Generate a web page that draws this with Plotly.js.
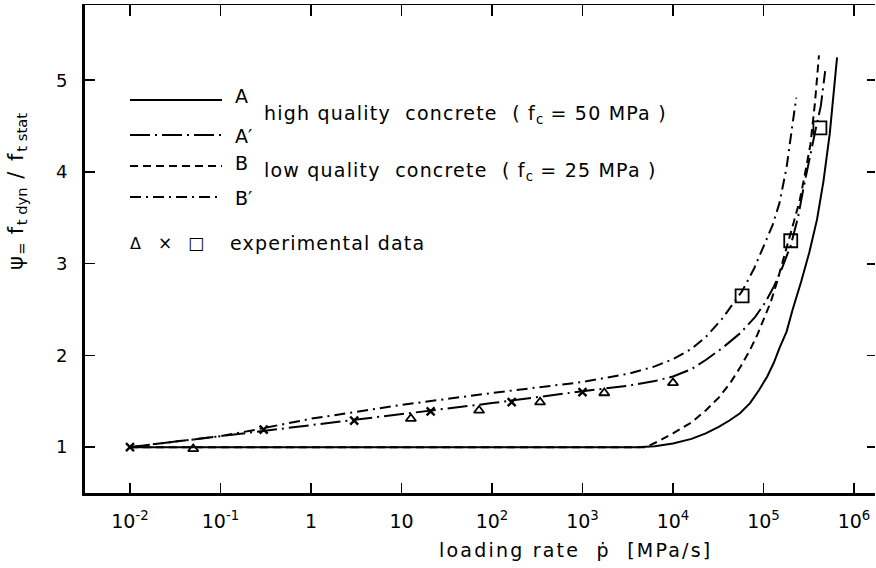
<!DOCTYPE html>
<html>
<head>
<meta charset="utf-8">
<script src="https://cdn.plot.ly/plotly-3.0.1.min.js"></script>
<style>html,body{margin:0;padding:0;background:#fff;}#chart{width:876px;height:568px;}</style>
</head>
<body>
<div id="chart"></div>
<script>
// ---- data (loading rate in MPa/s, psi = f_tdyn / f_tstat) ----
const curveA_x = [0.01, 4e3, 6.3e3, 1e4, 1.6e4, 2.3e4, 3.2e4, 4.2e4, 5.5e4, 7.1e4, 8.9e4, 1.1e5, 1.3e5, 1.5e5, 1.8e5, 2.1e5, 2.6e5, 3.2e5, 3.9e5, 4.6e5, 5.4e5, 6.0e5, 6.5e5];
const curveA_y = [1.0, 1.0, 1.01, 1.04, 1.09, 1.15, 1.22, 1.29, 1.37, 1.48, 1.62, 1.77, 1.92, 2.08, 2.26, 2.50, 2.80, 3.12, 3.48, 3.90, 4.42, 4.85, 5.25];

const curveA2_x = [0.01, 0.032, 0.1, 1, 10, 100, 1000, 3.2e3, 6.3e3, 1e4, 1.6e4, 2.3e4, 3.5e4, 5.5e4, 8.1e4, 1.05e5, 1.3e5, 1.6e5, 2.0e5, 2.4e5, 2.8e5, 3.3e5, 3.8e5, 4.3e5, 4.8e5];
const curveA2_y = [1.0, 1.06, 1.12, 1.24, 1.36, 1.48, 1.61, 1.67, 1.72, 1.77, 1.85, 1.95, 2.08, 2.24, 2.42, 2.58, 2.75, 2.95, 3.2, 3.5, 3.85, 4.2, 4.48, 4.72, 5.1];

const curveB_x = [0.01, 5e3, 7.1e3, 1e4, 1.6e4, 2.3e4, 3.2e4, 4.3e4, 5.6e4, 7.1e4, 8.5e4, 1e5, 1.2e5, 1.4e5, 1.7e5, 2.1e5, 2.5e5, 2.8e5, 3.3e5, 3.7e5, 4.1e5];
const curveB_y = [1.0, 1.0, 1.07, 1.15, 1.27, 1.40, 1.54, 1.70, 1.88, 2.06, 2.22, 2.38, 2.58, 2.79, 3.08, 3.40, 3.68, 3.92, 4.30, 4.75, 5.27];

const curveB2_x = [0.01, 0.1, 0.23, 1, 10, 100, 1000, 3.2e3, 6.3e3, 1e4, 1.6e4, 2.3e4, 3.5e4, 5.8e4, 7.9e4, 1e5, 1.26e5, 1.5e5, 1.8e5, 2.0e5, 2.3e5];
const curveB2_y = [1.0, 1.12, 1.185, 1.31, 1.46, 1.59, 1.71, 1.80, 1.88, 1.96, 2.07, 2.20, 2.40, 2.70, 2.95, 3.18, 3.42, 3.66, 4.05, 4.38, 4.81];

const triangles_x = [0.05, 12.7, 72, 340, 1740, 1e4];
const triangles_y = [0.98, 1.31, 1.40, 1.49, 1.59, 1.70];
const crosses_x = [0.01, 0.3, 3, 21, 165, 1000];
const crosses_y = [1.0, 1.19, 1.29, 1.39, 1.49, 1.60];
const squares_x = [5.8e4, 2.0e5, 4.2e5];
const squares_y = [2.65, 3.25, 4.48];

const xTickVals = [0.01, 0.1, 1, 10, 100, 1e3, 1e4, 1e5, 1e6];
const xTickText = ['10<sup>-2</sup>', '10<sup>-1</sup>', '1', '10', '10<sup>2</sup>', '10<sup>3</sup>', '10<sup>4</sup>', '10<sup>5</sup>', '10<sup>6</sup>'];
const yTickVals = [1, 2, 3, 4, 5];

// ---- layout helpers (pixel -> paper) ----
const L = 85, R = 875, T = 5, B = 493;
const px = x => (x - L) / (R - L);
const py = y => (B - y) / (B - T);

const FONT = 'DejaVu Sans';
const lineW = 2;
const sp = (t, ls) => '<span style="letter-spacing:' + ls + 'px">' + t + '</span>';

const dashA2 = '20px,5px,2px,5px';
const dashB = '8px,5px';
const dashB2 = '11px,5px,2px,5px';

const traces = [
  {x: curveA_x, y: curveA_y, mode: 'lines', line: {color: '#000', width: lineW}, hoverinfo: 'skip'},
  {x: curveA2_x, y: curveA2_y, mode: 'lines', line: {color: '#000', width: lineW, dash: dashA2}, hoverinfo: 'skip'},
  {x: curveB_x, y: curveB_y, mode: 'lines', line: {color: '#000', width: lineW, dash: dashB}, hoverinfo: 'skip'},
  {x: curveB2_x, y: curveB2_y, mode: 'lines', line: {color: '#000', width: lineW, dash: dashB2}, hoverinfo: 'skip'},
  {x: triangles_x, y: triangles_y, mode: 'markers', marker: {symbol: 'triangle-up-open', size: 9, color: '#000', line: {width: 1.8, color: '#000'}}, cliponaxis: false},
  {x: crosses_x, y: crosses_y, mode: 'markers', marker: {symbol: 'x-thin-open', size: 8, color: '#000', line: {width: 2.4, color: '#000'}}, cliponaxis: false},
  {x: squares_x, y: squares_y, mode: 'markers', marker: {symbol: 'square-open', size: 13, color: '#000', line: {width: 1.8, color: '#000'}}},
  {x: [1, 10], y: [1, 2], xaxis: 'x2', yaxis: 'y2', mode: 'none', hoverinfo: 'skip'}
];

const legendRows = [
  {y: 100, dash: 'solid', label: 'A', ly: 96},
  {y: 135, dash: dashA2, label: 'A′', ly: 136},
  {y: 166, dash: dashB, label: 'B', ly: 163},
  {y: 197, dash: dashB2, label: 'B′', ly: 198}
];

const shapes = legendRows.map(r => ({
  type: 'line', xref: 'paper', yref: 'paper',
  x0: px(130), x1: px(222), y0: py(r.y), y1: py(r.y),
  line: {color: '#000', width: lineW, dash: r.dash}
}));

const txt = (text, x, y, size, extra) => Object.assign({
  text: text, xref: 'paper', yref: 'paper', x: px(x), y: py(y),
  showarrow: false, font: {family: FONT, size: size, color: '#000'},
  xanchor: 'left', yanchor: 'middle'
}, extra || {});

const annotations = [
  ...legendRows.map(r => txt(r.label, 233, r.ly, 19)),
  txt(sp('high quality  concrete  ( f', 1.2) + '<sub>c</sub>' + sp(' = 50 MPa )', 1.2), 262, 114, 19),
  txt(sp('low quality  concrete  ( f', 1.2) + '<sub>c</sub>' + sp(' = 25 MPa )', 1.2), 262, 171, 19),
  txt('Δ', 135, 243, 16, {xanchor: 'center'}),
  txt('×', 165, 243, 17, {xanchor: 'center'}),
  txt('□', 196, 243, 17, {xanchor: 'center'}),
  txt(sp('experimental data', 1.2), 228, 243, 19),
  txt(sp('loading rate  ṗ  [MPa/s]', 2.2), 575, 550, 19, {xanchor: 'center'}),
  txt(sp('ψ', 1.5) + '<sub>=</sub>' + sp(' f', 1.5) + '<sub>t dyn</sub>' + sp(' / f', 2) + '<sub>t stat</sub>', 17, 192, 21, {xanchor: 'center', textangle: -90})
];

const axisBase = {color: '#000', showgrid: false, zeroline: false, ticks: 'inside', tickcolor: '#000'};

const layout = {
  width: 876, height: 568,
  margin: {l: L, r: 876 - R, t: T, b: 568 - B},
  paper_bgcolor: '#fff', plot_bgcolor: '#fff',
  showlegend: false,
  font: {family: FONT, size: 16, color: '#000'},
  xaxis: Object.assign({}, axisBase, {
    type: 'log', range: [-2.497, 6.232], tickvals: xTickVals, ticktext: xTickText,
    ticklen: 10, tickwidth: 1.5, showline: true, linewidth: 3, linecolor: '#000',
    tickfont: {family: FONT, size: 19}, ticklabelstandoff: 9
  }),
  xaxis2: Object.assign({}, axisBase, {
    type: 'log', range: [-2.497, 6.232], tickvals: xTickVals, overlaying: 'x', side: 'top',
    ticklen: 11, tickwidth: 1.8, showline: true, linewidth: 1.5, linecolor: '#000', showticklabels: false
  }),
  yaxis: Object.assign({}, axisBase, {
    range: [0.5, 5.82], tickvals: yTickVals, ticklen: 10, tickwidth: 1.5,
    showline: true, linewidth: 3, linecolor: '#000', tickfont: {family: FONT, size: 18}, ticklabelstandoff: 11
  }),
  yaxis2: Object.assign({}, axisBase, {
    range: [0.5, 5.82], tickvals: yTickVals, overlaying: 'y', side: 'right',
    ticklen: 8, tickwidth: 1.8, showline: false, showticklabels: false
  }),
  shapes: shapes,
  annotations: annotations
};

Plotly.newPlot('chart', traces, layout, {staticPlot: true, displayModeBar: false});
</script>
</body>
</html>
